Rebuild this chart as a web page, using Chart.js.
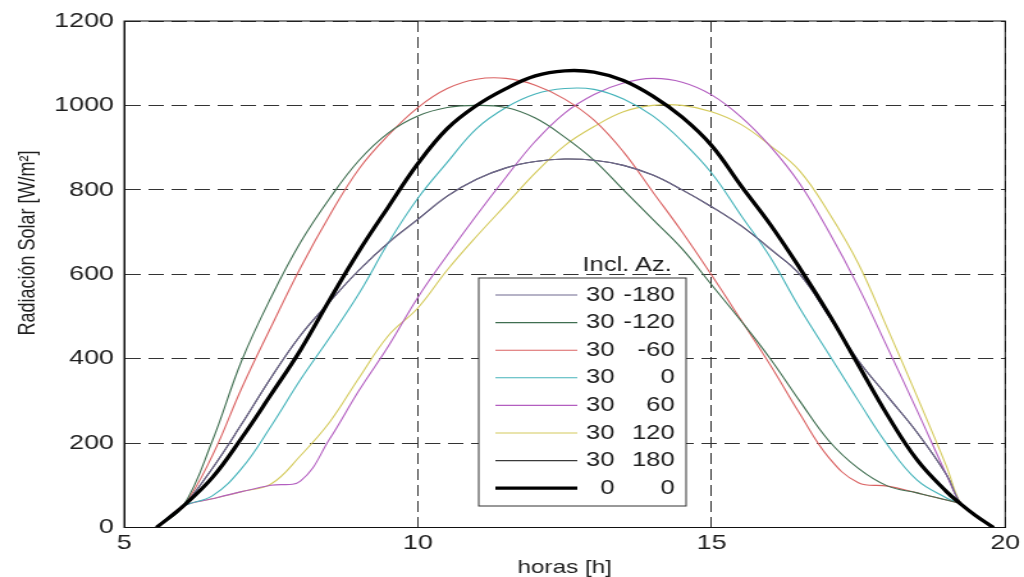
<!DOCTYPE html>
<html>
<head>
<meta charset="utf-8">
<title>Radiación Solar</title>
<script src="https://cdn.jsdelivr.net/npm/chart.js@4.4.1/dist/chart.umd.min.js"></script>
<style>
    html, body { margin: 0; padding: 0; background: #fff; overflow: hidden; }
    #chart { display: block; }
</style>
</head>
<body>
<!-- drawn at 800px wide and stretched to 1024px, like the original figure -->
<canvas id="chart" width="800" height="577" style="width:1024px;height:577px"></canvas>
<script>
// hours of the day
const hours = [5.55, 6, 6.5, 7, 7.5, 8, 8.5, 9, 9.5, 10, 10.5, 11, 11.5, 12, 12.5, 13,
    13.5, 14, 14.5, 15, 15.5, 16, 16.5, 17, 17.5, 18, 18.5, 19, 19.25, 19.5, 19.8];

// radiation [W/m2] per surface (inclination / azimuth)
const radAz180 = [0, 50, 140, 245, 355, 455, 535, 610, 675, 730, 785, 825, 852, 867, 873, 870,
    858, 835, 800, 760, 715, 660, 600, 500, 395, 310, 225, 125, 55, 28, 0];
const radAzM120 = [0, 50, 205, 395, 545, 675, 780, 870, 935, 975, 995, 1000, 995, 970, 925, 870,
    800, 730, 660, 575, 490, 400, 300, 205, 140, 98, 82, 65, 55, 28, 0];
const radAzM60 = [0, 50, 170, 330, 475, 615, 740, 850, 930, 995, 1040, 1062, 1064, 1048, 1015, 965,
    890, 795, 700, 598, 492, 385, 270, 165, 106, 98, 82, 65, 55, 28, 0];
const radAz0 = [0, 50, 75, 140, 240, 350, 450, 555, 675, 780, 865, 945, 995, 1027, 1040, 1038,
    1015, 975, 915, 840, 740, 640, 520, 410, 300, 195, 112, 70, 55, 28, 0];
const radAz60 = [0, 50, 68, 85, 100, 110, 210, 325, 430, 545, 645, 740, 830, 915, 982, 1026,
    1053, 1064, 1055, 1025, 973, 903, 815, 700, 570, 425, 277, 125, 55, 28, 0];
const radAz120 = [0, 50, 68, 85, 103, 170, 250, 355, 455, 520, 610, 690, 765, 840, 905, 950,
    985, 1000, 1000, 985, 955, 905, 845, 745, 625, 470, 310, 145, 55, 28, 0];
const radHoriz = [0, 50, 118, 212, 315, 420, 540, 655, 760, 862, 945, 1000, 1040, 1070, 1082, 1079,
    1059, 1022, 972, 905, 810, 718, 615, 505, 385, 265, 160, 85, 55, 28, 0];

// legend columns
const inclination = ['30', '30', '30', '30', '30', '30', '30', '0'];
const azimuth = ['-180', '-120', '-60', '0', '60', '120', '180', '0'];
const valueSets = [radAz180, radAzM120, radAzM60, radAz0, radAz60, radAz120, radAz180, radHoriz];

// axis ticks
const xTicks = [5, 10, 15, 20];
const yTicks = [0, 200, 400, 600, 800, 1000, 1200];

const lineColors = ['#6f6890', '#3f6e50', '#da6262', '#45b3ba', '#b35ec0', '#d4ca5c', '#3a3a3a', '#000000'];
const textColor = '#1e1e1e';
const fontFamily = "'Liberation Sans', Arial, Helvetica, sans-serif";

Chart.defaults.font.family = fontFamily;
Chart.defaults.color = textColor;

// frame, inset legend and y-axis title
const extrasPlugin = {
    id: 'extras',
    afterDraw(chart) {
        const ctx = chart.ctx;
        const a = chart.chartArea;
        ctx.save();
        ctx.setLineDash([]);
        ctx.strokeStyle = '#111';
        ctx.lineWidth = 1;
        ctx.strokeRect(a.left, a.top, a.right - a.left, a.bottom - a.top);

        // legend box
        const box = { x: 374, y: 278, w: 162, h: 228 };
        ctx.fillStyle = '#fff';
        ctx.fillRect(box.x, box.y, box.w, box.h);
        ctx.strokeStyle = '#333';
        ctx.strokeRect(box.x, box.y, box.w, box.h);

        ctx.font = '20px ' + fontFamily;
        ctx.fillStyle = textColor;
        ctx.textBaseline = 'middle';
        ctx.textAlign = 'left';
        ctx.fillText('Incl.', 455, 265);
        ctx.fillText('Az.', 496, 265);

        chart.data.datasets.forEach((ds, i) => {
            const y = 295 + i * 27.6;
            ctx.strokeStyle = ds.borderColor;
            ctx.lineWidth = ds.borderWidth;
            ctx.beginPath();
            ctx.moveTo(387, y);
            ctx.lineTo(451, y);
            ctx.stroke();
            ctx.textAlign = 'right';
            ctx.fillText(inclination[i], 480, y);
            ctx.fillText(azimuth[i], 527, y);
        });

        // y-axis title
        ctx.translate(22, 243);
        ctx.rotate(-Math.PI / 2);
        ctx.textAlign = 'center';
        ctx.font = '18px ' + fontFamily;
        ctx.fillText('Radiación Solar [W/m²]', 0, 0);
        ctx.restore();
    }
};

new Chart(document.getElementById('chart'), {
    type: 'line',
    data: {
        datasets: valueSets.map((vals, i) => ({
            label: inclination[i] + ' ' + azimuth[i],
            data: hours.map((h, j) => ({ x: h, y: vals[j] })),
            borderColor: lineColors[i],
            borderWidth: i === 7 ? 3.3 : 1.1,
            pointRadius: 0,
            tension: 0.4,
            order: i === 7 ? 0 : 1
        }))
    },
    options: {
        responsive: false,
        animation: false,
        events: [],
        layout: { padding: { top: 21, right: 14, left: 0, bottom: 0 } },
        plugins: { legend: { display: false }, tooltip: { enabled: false } },
        scales: {
            x: {
                type: 'linear',
                min: 5,
                max: 20,
                afterBuildTicks: s => { s.ticks = xTicks.map(v => ({ value: v })); },
                afterFit: s => { s.height = 49.5; },
                grid: { color: '#333', lineWidth: 1, drawTicks: false },
                border: { display: true, color: '#111', dash: [11, 5] },
                ticks: { padding: 3, font: { size: 21 }, color: textColor, callback: v => String(v) },
                title: {
                    display: true,
                    text: 'horas [h]',
                    font: { size: 19, lineHeight: 1 },
                    padding: { top: 0, bottom: 0 },
                    color: textColor
                }
            },
            y: {
                min: 0,
                max: 1200,
                afterBuildTicks: s => { s.ticks = yTicks.map(v => ({ value: v })); },
                afterFit: s => { s.width = 97; },
                grid: { color: '#333', lineWidth: 1, drawTicks: false },
                border: { display: true, color: '#111', dash: [12, 6] },
                ticks: { padding: 8, font: { size: 21 }, color: textColor, callback: v => String(v) }
            }
        }
    },
    plugins: [extrasPlugin]
});
</script>
</body>
</html>
